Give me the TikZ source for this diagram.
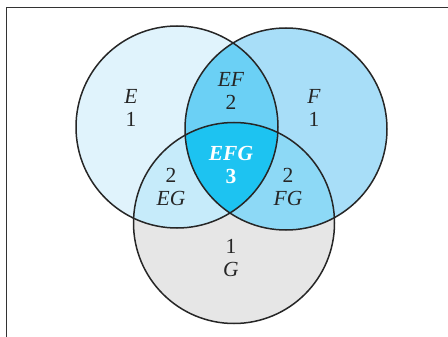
\documentclass[tikz,border=0pt]{standalone}
\usepackage{fontspec}
\setmainfont{Liberation Serif}
\usepackage{tikz}
\usetikzlibrary{positioning}
\definecolor{SetE}{HTML}{E0F3FC}
\definecolor{SetF}{HTML}{A8DEF8}
\definecolor{SetG}{HTML}{E6E6E6}
\definecolor{SetEF}{HTML}{6BD0F5}
\definecolor{SetEG}{HTML}{C6EBFA}
\definecolor{SetFG}{HTML}{8DD9F6}
\definecolor{SetEFG}{HTML}{1DC3F1}
\begin{document}
\begin{tikzpicture}[x=1pt,y=-1pt,every node/.style={font=\fontsize{21.5}{23}\selectfont,align=center,inner sep=0pt}]
\tikzset{region/.style={text=black!85},core/.style={text=white,font=\fontsize{21.5}{23}\selectfont\bfseries},ring/.style={draw=black!85,line width=1.5pt}}
\useasboundingbox (0,0) rectangle (448,337);
\draw[black!80,line width=1pt] (448,8)--(6,8)--(6,337);
% set discs
\fill[SetE] (177,127) circle (101);
\fill[SetF] (286,129) circle (101);
\fill[SetG] (234,223) circle (100.5);
\begin{scope}
\clip (177,127) circle (101);
\fill[SetEF] (286,129) circle (101);
\fill[SetEG] (234,223) circle (100.5);
\end{scope}
\begin{scope}
\clip (286,129) circle (101);
\clip (234,223) circle (100.5);
\fill[SetFG] (286,129) circle (101);
\end{scope}
\begin{scope}
\clip (177,127) circle (101);
\clip (286,129) circle (101);
\fill[SetEFG] (234,223) circle (100.5);
\end{scope}
\draw[ring] (177,127) circle (101);
\draw[ring] (286,129) circle (101);
\draw[ring] (234,223) circle (100.5);
% labels
\node[region] (e) at (131,108) {\textit{E}\\1};
\node[region] (ef) at (231,91) {\textit{EF}\\2};
\node[region] (f) at (314,108) {\textit{F}\\1};
\node[core] (efg) at (231,165) {\textit{EFG}\\3};
\node[region] (eg) at (171,187) {2\\\textit{EG}};
\node[region] (fg) at (288,187) {2\\\textit{FG}};
\node[region] (g) at (231,258) {1\\\textit{G}};
\end{tikzpicture}
\end{document}
